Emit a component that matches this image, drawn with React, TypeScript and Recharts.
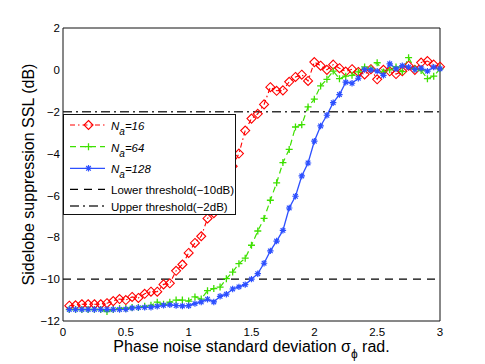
import { LineChart, Line, XAxis, YAxis, ReferenceLine } from "recharts";

const sigma = [
  0.05, 0.1, 0.15, 0.2, 0.25, 0.3, 0.35, 0.4, 0.45, 0.5,
  0.55, 0.6, 0.65, 0.7, 0.75, 0.8, 0.85, 0.9, 0.95, 1,
  1.05, 1.1, 1.15, 1.2, 1.25, 1.3, 1.35, 1.4, 1.45, 1.5,
  1.55, 1.6, 1.65, 1.7, 1.75, 1.8, 1.85, 1.9, 1.95, 2,
  2.05, 2.1, 2.15, 2.2, 2.25, 2.3, 2.35, 2.4, 2.45, 2.5,
  2.55, 2.6, 2.65, 2.7, 2.75, 2.8, 2.85, 2.9, 2.95, 3,
];

const ssl16 = [
  -11.27, -11.25, -11.2, -11.2, -11.2, -11.2, -11.15, -11.05, -10.95, -11.0,
  -10.85, -10.9, -10.7, -10.6, -10.6, -10.25, -10.2, -9.6, -9.3, -8.75,
  -8.27, -7.95, -7.1, -6.85, -6.1, -5.4, -4.6, -4.0, -2.9, -2.33,
  -2.1, -1.65, -0.83, -1.0, -0.98, -0.57, -0.34, -0.23, -0.53, 0.37,
  0.2, 0.0, 0.25, 0.08, -0.08, 0.03, -0.1, -0.22, 0.03, -0.45,
  0.0, -0.07, -0.2, -0.07, 0.2, 0.0, 0.35, 0.42, 0.25, 0.15,
];

const ssl64 = [
  -11.45, -11.45, -11.45, -11.45, -11.45, -11.45, -11.55, -11.45, -11.4, -11.4,
  -11.35, -11.35, -11.3, -11.25, -11.1, -11.2, -11.1, -11.0, -11.0, -11.05,
  -10.85, -10.95, -10.55, -10.45, -10.38, -9.98, -9.66, -9.26, -9.0, -8.38,
  -7.7, -7.1, -6.23, -5.4, -4.43, -3.8, -2.73, -2.62, -1.77, -1.4,
  -0.77, -0.45, -0.06, -0.42, -0.3, -0.26, -0.1, 0.14, 0.05, 0.34,
  -0.1, 0.0, 0.14, -0.08, 0.58, 0.05, -0.03, -0.42, -0.3, 0.05,
];

const ssl128 = [
  -11.45, -11.45, -11.45, -11.45, -11.45, -11.45, -11.45, -11.45, -11.45, -11.44,
  -11.38, -11.36, -11.35, -11.34, -11.3, -11.25, -11.23, -11.26, -11.28, -11.27,
  -11.17, -11.09, -10.96, -11.09, -10.82, -10.72, -10.47, -10.37, -10.26, -10.0,
  -9.74, -9.24, -8.65, -8.18, -7.67, -6.6, -6.04, -5.07, -4.45, -3.41,
  -2.68, -2.17, -1.57, -1.18, -0.59, -0.64, -0.4, 0.02, 0.0, -0.06,
  -0.26, 0.29, 0.05, 0.2, 0.13, 0.02, 0.08, -0.06, 0.13, 0.05,
];

const xTicks = [0, 0.5, 1, 1.5, 2, 2.5, 3];
const yTicks = [-12, -10, -8, -6, -4, -2, 0, 2];
const lowerThreshold = -10;
const upperThreshold = -2;
const seriesNames = ["=16", "=64", "=128"];
const thresholdNames = ["Lower threshold(\u221210dB)", "Upper threshold(\u22122dB)"];

const RED = "#ff0000";
const GREEN = "#3ee000";
const BLUE = "#2d50ff";
const AXIS = "#111";
const FONT = "'Liberation Sans', Arial, Helvetica, sans-serif";

const RED_DASH = "5 3 1.5 3";
const GREEN_DASH = "6 4";
const LOWER_DASH = "8 6";
const UPPER_DASH = "9 4 2 4";

const data = sigma.map((s, i) => ({
  sigma: s,
  n16: ssl16[i],
  n64: ssl64[i],
  n128: ssl128[i],
}));

const fmtY = (v: number) => (v < 0 ? `\u2212${Math.abs(v)}` : `${v}`);

function diamond(cx: number, cy: number, r: number) {
  return `M${cx} ${cy - r}L${cx + r} ${cy}L${cx} ${cy + r}L${cx - r} ${cy}Z`;
}

function DiamondMark({ cx, cy }: { cx: number; cy: number }) {
  return <path d={diamond(cx, cy, 4.5)} fill="none" stroke={RED} strokeWidth={1.1} />;
}

function PlusMark({ cx, cy }: { cx: number; cy: number }) {
  const r = 3.5;
  return (
    <path
      d={`M${cx - r} ${cy}H${cx + r}M${cx} ${cy - r}V${cy + r}`}
      stroke={GREEN}
      strokeWidth={1.3}
      fill="none"
    />
  );
}

function StarMark({ cx, cy }: { cx: number; cy: number }) {
  const r = 3.2;
  const d = r * 0.72;
  return (
    <path
      d={`M${cx - r} ${cy}H${cx + r}M${cx} ${cy - r}V${cy + r}M${cx - d} ${cy - d}L${cx + d} ${cy + d}M${cx - d} ${cy + d}L${cx + d} ${cy - d}`}
      stroke={BLUE}
      strokeWidth={1.2}
      fill="none"
    />
  );
}

const renderDot = (Mark: any, tag: string) => (p: any) => {
  if (p.cx == null || p.cy == null) return <g key={`${tag}-${p.index}`} />;
  return <Mark key={`${tag}-${p.index}`} cx={p.cx} cy={p.cy} />;
};

function XLabel({ viewBox }: any) {
  const cx = viewBox.x + viewBox.width / 2;
  const y = viewBox.y + 31;
  return (
    <text x={cx} y={y} textAnchor="middle" fontFamily={FONT} fontSize={16} fill="#000">
      Phase noise standard deviation σ
      <tspan dy={5.5} fontSize={12}>ϕ</tspan>
      <tspan dy={-5.5}> rad.</tspan>
    </text>
  );
}

function YLabel({ viewBox }: any) {
  const cy = viewBox.y + viewBox.height / 2;
  const x = 33.5;
  return (
    <text
      x={x}
      y={cy}
      transform={`rotate(-90 ${x} ${cy})`}
      textAnchor="middle"
      fontFamily={FONT}
      fontSize={16}
      fill="#000"
    >
      Sidelobe suppression SSL (dB)
    </text>
  );
}

function LegendBox() {
  const x0 = 6;
  const x1 = 41;
  const mx = 24.5;
  const tx = 47;
  const rows = [10, 31.7, 53.3];
  const base = [15, 36.7, 58.3];
  const colors = [RED, GREEN, BLUE];
  const dashes = [RED_DASH, GREEN_DASH, undefined];
  const marks = [DiamondMark, PlusMark, StarMark];
  return (
    <div
      style={{
        position: "absolute",
        left: 63,
        top: 114,
        width: 173,
        height: 101,
        background: "#fff",
        border: `1px solid ${AXIS}`,
        boxSizing: "border-box",
      }}
    >
      <svg width={171} height={99} style={{ display: "block" }}>
        {seriesNames.map((name, i) => {
          const Mark = marks[i];
          return (
            <g key={name}>
              <line x1={x0} x2={x1} y1={rows[i]} y2={rows[i]} stroke={colors[i]} strokeWidth={1.2} strokeDasharray={dashes[i]} />
              <Mark cx={mx} cy={rows[i]} />
              <text x={tx} y={base[i]} fontFamily={FONT} fontSize={11.5} fontStyle="italic" fill="#000">
                N
                <tspan dy={5} fontSize={10}>a</tspan>
                <tspan dy={-5}>{name}</tspan>
              </text>
            </g>
          );
        })}
        <line x1={x0} x2={x1} y1={74.3} y2={74.3} stroke="#000" strokeWidth={1.3} strokeDasharray={LOWER_DASH} />
        <text x={tx} y={79.3} fontFamily={FONT} fontSize={11.5} fill="#000">
          {thresholdNames[0]}
        </text>
        <line x1={x0} x2={x1} y1={91} y2={91} stroke="#333" strokeWidth={1.3} strokeDasharray={UPPER_DASH} />
        <text x={tx} y={95.5} fontFamily={FONT} fontSize={11.5} fill="#000">
          {thresholdNames[1]}
        </text>
      </svg>
    </div>
  );
}

export default function App() {
  const tickStyle = { fontSize: 11.5, fill: "#000", fontFamily: FONT };
  return (
    <div style={{ position: "relative", width: 485, height: 364, background: "#fff" }}>
      <style>{"body{margin:0;}"}</style>
      <LineChart
        width={485}
        height={364}
        data={data}
        margin={{ top: 28, right: 45, bottom: 0, left: 0 }}
      >
        <XAxis
          dataKey="sigma"
          type="number"
          domain={[0, 3]}
          ticks={xTicks}
          tick={tickStyle}
          tickLine={false}
          tickSize={5}
          tickMargin={2}
          axisLine={{ stroke: AXIS }}
          height={43}
          label={<XLabel />}
        />
        <XAxis
          xAxisId="inBottom"
          dataKey="sigma"
          type="number"
          domain={[0, 3]}
          ticks={xTicks}
          mirror
          tick={false}
          tickSize={4}
          tickLine={{ stroke: AXIS }}
          axisLine={false}
        />
        <XAxis
          xAxisId="top"
          orientation="top"
          dataKey="sigma"
          type="number"
          domain={[0, 3]}
          ticks={xTicks}
          mirror
          tick={false}
          tickSize={4}
          tickLine={{ stroke: AXIS }}
          axisLine={{ stroke: AXIS }}
        />
        <YAxis
          type="number"
          domain={[-12, 2]}
          ticks={yTicks}
          tickFormatter={fmtY}
          tick={tickStyle}
          tickLine={false}
          tickSize={1}
          tickMargin={2}
          axisLine={{ stroke: AXIS }}
          width={63}
          label={<YLabel />}
        />
        <YAxis
          yAxisId="inLeft"
          type="number"
          domain={[-12, 2]}
          ticks={yTicks}
          mirror
          tick={false}
          tickSize={4}
          tickLine={{ stroke: AXIS }}
          axisLine={false}
        />
        <YAxis
          yAxisId="right"
          orientation="right"
          type="number"
          domain={[-12, 2]}
          ticks={yTicks}
          mirror
          tick={false}
          tickSize={4}
          tickLine={{ stroke: AXIS }}
          axisLine={{ stroke: AXIS }}
        />
        <Line
          dataKey="n16"
          stroke={RED}
          strokeWidth={1.1}
          strokeDasharray={RED_DASH}
          dot={renderDot(DiamondMark, "d16")}
          activeDot={false}
          isAnimationActive={false}
        />
        <Line
          dataKey="n64"
          stroke={GREEN}
          strokeWidth={1.2}
          strokeDasharray={GREEN_DASH}
          dot={renderDot(PlusMark, "d64")}
          activeDot={false}
          isAnimationActive={false}
        />
        <Line
          dataKey="n128"
          stroke={BLUE}
          strokeWidth={1.3}
          dot={renderDot(StarMark, "d128")}
          activeDot={false}
          isAnimationActive={false}
        />
        <ReferenceLine y={lowerThreshold} stroke="#000" strokeWidth={1.4} strokeDasharray={LOWER_DASH} />
        <ReferenceLine y={upperThreshold} stroke="#333" strokeWidth={1.4} strokeDasharray={UPPER_DASH} />
      </LineChart>
      <LegendBox />
    </div>
  );
}
